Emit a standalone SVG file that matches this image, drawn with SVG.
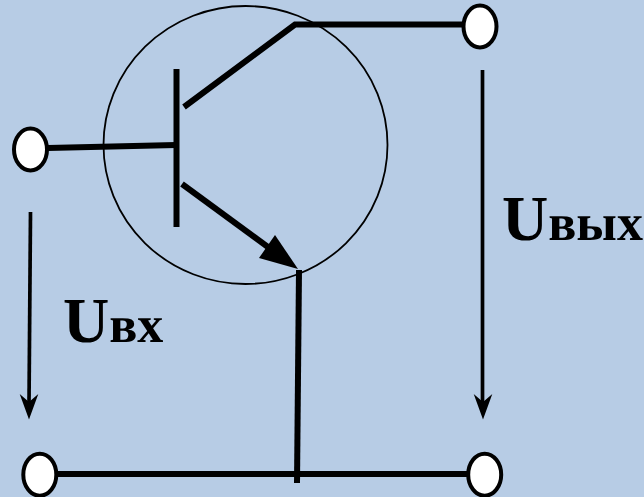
<svg xmlns="http://www.w3.org/2000/svg" width="644" height="497" viewBox="0 0 644 497">
<style>
.w{stroke:#000;stroke-width:6;fill:none}
.t{fill:#fff;stroke:#000;stroke-width:4}
.a{stroke:#000;stroke-width:3.7;fill:none}
.l{font-family:"Liberation Serif","Times New Roman",serif;font-weight:bold;fill:#000;font-size:64px;text-rendering:geometricPrecision}
.s{font-size:52px}
</style>
<rect width="644" height="497" fill="#b7cce5"/>
<g id="connectors">
<ellipse id="body" cx="245.500" cy="145" rx="142" ry="139" fill="none" stroke="#000" stroke-width="1.800"/>
<path class="w" d="M176.500 69V227"/>
<path class="w" d="M48 148L176 145"/>
<path class="w" d="M184 107L295 24.500H464"/>
<path class="w" d="M182 184L272 250"/>
<path d="M298 269L259 258L275 235Z" fill="#000"/>
<path class="w" d="M299 270L297 483"/>
<path class="w" d="M55 474H468"/>
<path class="a" d="M30.500 212L29 405"/>
<path d="M29 419.500L19.700 394L29 402L38.300 394Z" fill="#000"/>
<path class="a" d="M482.500 70V405"/>
<path d="M483 419.500L473.700 394L483 402L492.300 394Z" fill="#000"/>
</g>
<g id="t-base"><ellipse class="t" cx="30.500" cy="149.500" rx="16.500" ry="21"/></g>
<g id="t-out"><ellipse class="t" cx="480" cy="26.500" rx="16.500" ry="21"/></g>
<g id="t-in-low"><ellipse class="t" cx="39.800" cy="474.700" rx="16.500" ry="21"/></g>
<g id="t-out-low"><ellipse class="t" cx="484.700" cy="474.700" rx="16.500" ry="21"/></g>
<g id="label-in"><text class="l" x="63" y="342">U<tspan class="s">вх</tspan></text></g>
<g id="label-out"><text class="l" x="502" y="240">U<tspan class="s">вых</tspan></text></g>
</svg>
